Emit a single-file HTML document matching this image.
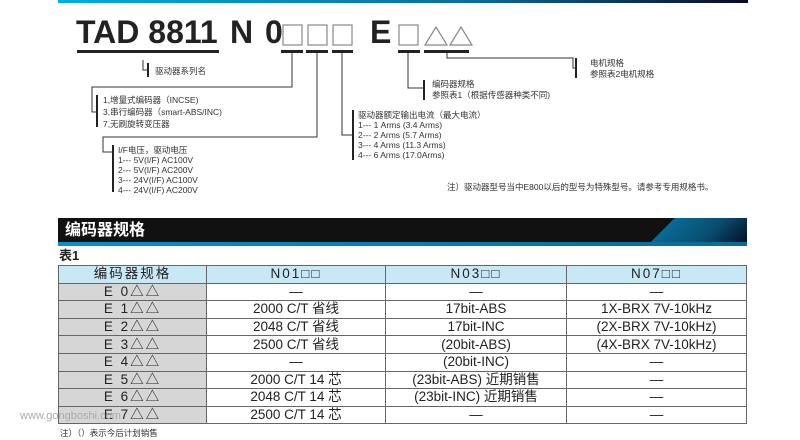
<!DOCTYPE html>
<html><head><meta charset="utf-8"><style>
*{margin:0;padding:0;box-sizing:border-box}
body{width:800px;height:440px;background:#fff;position:relative;overflow:hidden;font-family:"Liberation Sans","Noto Sans CJK SC",sans-serif;color:#222}
.a{position:absolute}
.T{position:absolute;top:12px;font-size:32px;font-weight:bold;color:#222;line-height:40px;white-space:nowrap}
.t{position:absolute;font-size:8.5px;line-height:10.5px;color:#333;white-space:nowrap}
table{position:absolute;left:58px;top:265px;width:689px;border-collapse:collapse;font-size:13.5px}
td{border:1px solid #666;height:17.6px;text-align:center;padding:0;line-height:16px;color:#222}
tr.h td{background:#c8e8f6;letter-spacing:2px}
td.g{background:#d6d6d6;letter-spacing:2px}
</style></head><body>
<div class="a" style="left:58px;top:0;width:690px;height:3px;background:linear-gradient(90deg,#00aee0,#0a6e9a 60%,#0a0a28)"></div>
<div class="T" style="left:76px">TAD 8811</div>
<div class="T" style="left:230px">N</div>
<div class="T" style="left:265px">0</div>
<div class="T" style="left:370px">E</div>
<svg class="a" style="left:0;top:0" width="800" height="210">
<g fill="none" stroke="#888" stroke-width="1.2">
<rect x="283" y="25" width="19" height="20"/>
<rect x="308" y="25" width="19" height="20"/>
<rect x="333" y="25" width="19" height="20"/>
<rect x="399" y="25" width="19" height="20"/>
<path d="M425 45L436 27L447 45Z"/>
<path d="M450 45L461 27L472 45Z"/>
</g>
<g fill="#222">
<rect x="77" y="50" width="142" height="3"/>
<rect x="281" y="50" width="22" height="3"/>
<rect x="306" y="50" width="22" height="3"/>
<rect x="332" y="50" width="21" height="3"/>
<rect x="398" y="50" width="22" height="3"/>
<rect x="424" y="50" width="45" height="3"/>
<rect x="147" y="63" width="2" height="14"/>
<rect x="96" y="95" width="2" height="32"/>
<rect x="112" y="145" width="2" height="47"/>
<rect x="352" y="110" width="2" height="50"/>
<rect x="423" y="80" width="2" height="20"/>
<rect x="575" y="58" width="2" height="20"/>
</g>
<g stroke="#333" stroke-width="1" fill="none">
<path d="M143 60V70H148"/>
<path d="M292 53V87H92V112H97"/>
<path d="M317 53V137H103V152H113"/>
<path d="M342 53V135H353"/>
<path d="M408 53V88H424"/>
<path d="M447 53V58H573V68H576"/>
</g>
</svg>
<div class="t" style="left:155px;top:66px">驱动器系列名</div>
<div class="t" style="left:103px;top:94px;line-height:12px">1,增量式编码器（INCSE)<br>3,串行编码器（smart-ABS/INC)<br>7,无刷旋转变压器</div>
<div class="t" style="left:118px;top:145px;line-height:10px">I/F电压，驱动电压<br>1--- 5V(I/F) AC100V<br>2--- 5V(I/F) AC200V<br>3--- 24V(I/F) AC100V<br>4--- 24V(I/F) AC200V</div>
<div class="t" style="left:358px;top:110px;line-height:10px">驱动器额定输出电流（最大电流）<br>1--- 1 Arms (3.4 Arms)<br>2--- 2 Arms (5.7 Arms)<br>3--- 4 Arms (11.3 Arms)<br>4--- 6 Arms (17.0Arms)</div>
<div class="t" style="left:432px;top:79px;line-height:11px">编码器规格<br>参照表1（根据传感器种类不同)</div>
<div class="t" style="left:590px;top:58px;line-height:11px">电机规格<br>参照表2电机规格</div>
<div class="t" style="left:447px;top:182px">注）驱动器型号当中E800以后的型号为特殊型号。请参考专用规格书。</div>
<div class="a" style="left:58px;top:218px;width:689px;height:28px;background:linear-gradient(135deg,#111 0,#111 86%,#0a6a95 86%,#084d70 93%,#050a20 100%)"></div>
<div class="a" style="left:58px;top:242px;width:689px;height:4px;background:linear-gradient(90deg,#0a90c8,#0a6a95)"></div>
<div class="a" style="left:65px;top:220px;font-size:16px;font-weight:bold;color:#fff;line-height:22px">编码器规格</div>
<div class="a" style="left:59px;top:248px;font-size:13px;font-weight:bold;line-height:16px">表1</div>
<table>
<tr class="h"><td style="width:148px">编码器规格</td><td style="width:179px">N01□□</td><td style="width:181px">N03□□</td><td>N07□□</td></tr>
<tr><td class="g">E 0△△</td><td>—</td><td>—</td><td>—</td></tr>
<tr><td class="g">E 1△△</td><td>2000 C/T 省线</td><td>17bit-ABS</td><td>1X-BRX 7V-10kHz</td></tr>
<tr><td class="g">E 2△△</td><td>2048 C/T 省线</td><td>17bit-INC</td><td>(2X-BRX 7V-10kHz)</td></tr>
<tr><td class="g">E 3△△</td><td>2500 C/T 省线</td><td>(20bit-ABS)</td><td>(4X-BRX 7V-10kHz)</td></tr>
<tr><td class="g">E 4△△</td><td>—</td><td>(20bit-INC)</td><td>—</td></tr>
<tr><td class="g">E 5△△</td><td>2000 C/T 14 芯</td><td>(23bit-ABS) 近期销售</td><td>—</td></tr>
<tr><td class="g">E 6△△</td><td>2048 C/T 14 芯</td><td>(23bit-INC) 近期销售</td><td>—</td></tr>
<tr><td class="g">E 7△△</td><td>2500 C/T 14 芯</td><td>—</td><td>—</td></tr>
</table>
<div class="t" style="left:60px;top:428px;font-size:8.5px">注）（）表示今后计划销售</div>
<div class="a" style="left:20px;top:410px;font-size:11px;color:#aaa;white-space:nowrap">www.gongboshi.com</div>
</body></html>
